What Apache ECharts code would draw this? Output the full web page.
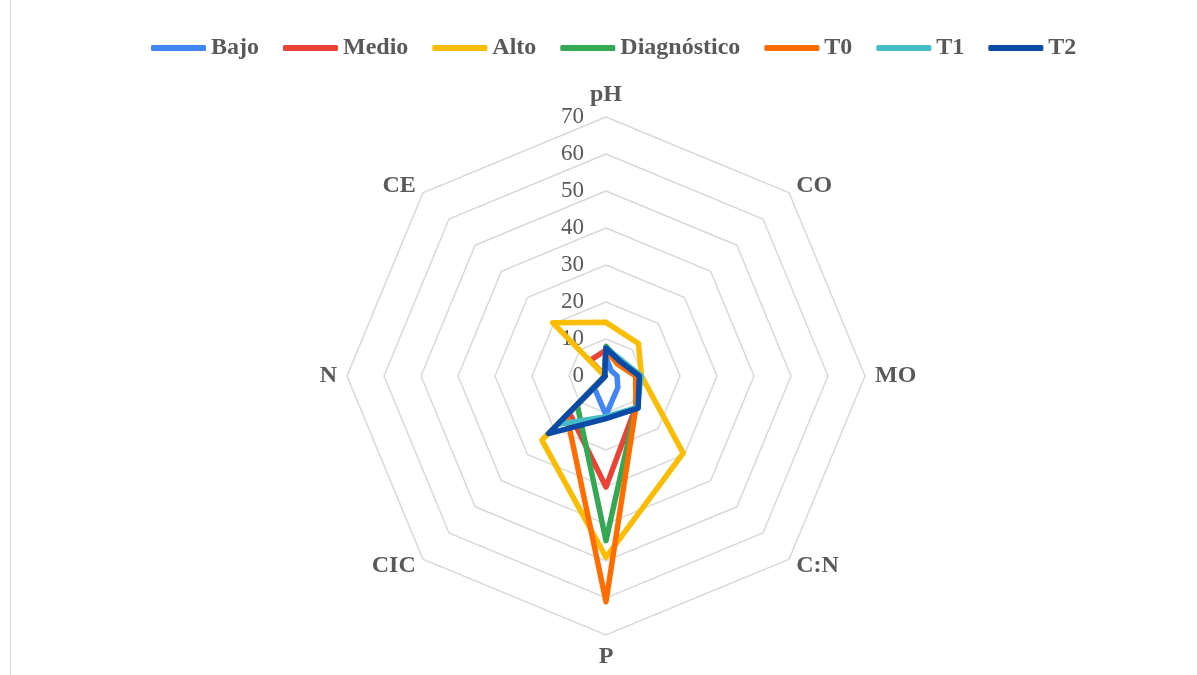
<!DOCTYPE html>
<html>
<head>
<meta charset="utf-8">
<script src="https://cdn.jsdelivr.net/npm/echarts@6/dist/echarts.min.js"></script>
<style>
  html, body { margin: 0; padding: 0; background: #ffffff; }
  #chart { width: 1197px; height: 675px; }
</style>
</head>
<body>
<div id="chart"></div>
<script>
// Soil parameters (radar axes, listed clockwise from the top)
const indicators = ['pH', 'CO', 'MO', 'C:N', 'P', 'CIC', 'N', 'CE'];
const axisMax = 70;
const axisSplits = 7;

// Series values, one per axis, in the same order as `indicators`
const seriesNames = ['Bajo', 'Medio', 'Alto', 'Diagnóstico', 'T0', 'T1', 'T2'];
const bajo        = [5,    2,    3,    4.5,  10.5, 4.5,  0.2, 0.5];
const medio       = [7,    5,    8.5,  11.5, 30,   14,   0.2, 6];
const alto        = [14.5, 12.4, 9.6,  29.5, 49,   24.5, 0.3, 20.4];
const diagnostico = [8,    5.5,  8.5,  11.5, 44.5, 11,   0.2, 0.5];
const t0          = [7,    4.5,  8,    11.5, 61,   15,   0.2, 0.5];
const t1          = [7.5,  6,    9.5,  12,   11,   18.5, 0.2, 0.5];
const t2          = [7.5,  5.5,  9,    12.3, 11.5, 22,   0.2, 0.5];

const seriesValues = [bajo, medio, alto, diagnostico, t0, t1, t2];
const seriesColors = ['#4285F4', '#EA4335', '#FBBC04', '#34A853', '#FF6D01', '#46BDC6', '#0B4AA6'];

const textColor = '#595959';
const serif = '"Liberation Serif", "Times New Roman", serif';

// ECharts lays radar indicators out counter-clockwise; keep the first axis
// at the top and reverse the rest so the axes read clockwise.
const order = [0].concat(indicators.map((_, i) => i).slice(1).reverse());
const reorder = arr => order.map(i => arr[i]);

const chart = echarts.init(document.getElementById('chart'), null, { renderer: 'canvas' });

const option = {
  backgroundColor: '#ffffff',
  animation: false,
  graphic: [{
    type: 'line',
    shape: { x1: 10.5, y1: 0, x2: 10.5, y2: 675 },
    style: { stroke: '#D9D9D9', lineWidth: 1 },
    silent: true,
    z: -10
  }],
  legend: {
    top: 31,
    left: 146,
    icon: 'roundRect',
    itemWidth: 55,
    itemHeight: 6,
    itemGap: 24,
    data: seriesNames,
    textStyle: { fontFamily: serif, fontWeight: 'bold', fontSize: 24, color: textColor }
  },
  radar: {
    center: [606, 376],
    radius: 259,
    shape: 'polygon',
    startAngle: 90,
    splitNumber: axisSplits,
    indicator: reorder(indicators).map((name, i) => ({
      name: name,
      min: 0,
      max: axisMax,
      axisLabel: { show: i === 0 }
    })),
    axisName: {
      fontFamily: serif,
      fontWeight: 'bold',
      fontSize: 24,
      color: textColor
    },
    nameGap: 10,
    axisLine: { show: false },
    axisTick: { show: false },
    axisLabel: {
      show: false,
      fontFamily: serif,
      fontSize: 23,
      color: textColor,
      margin: 22,
      showMinLabel: true,
      showMaxLabel: true
    },
    splitLine: { lineStyle: { color: '#D9D9D9', width: 1.5 } },
    splitArea: { show: false }
  },
  series: [{
    type: 'radar',
    symbol: 'none',
    data: seriesNames.map((name, i) => ({
      name: name,
      value: reorder(seriesValues[i]),
      lineStyle: { color: seriesColors[i], width: 5.5, join: 'round', cap: 'round' },
      itemStyle: { color: seriesColors[i] }
    }))
  }]
};

chart.setOption(option);
</script>
</body>
</html>
